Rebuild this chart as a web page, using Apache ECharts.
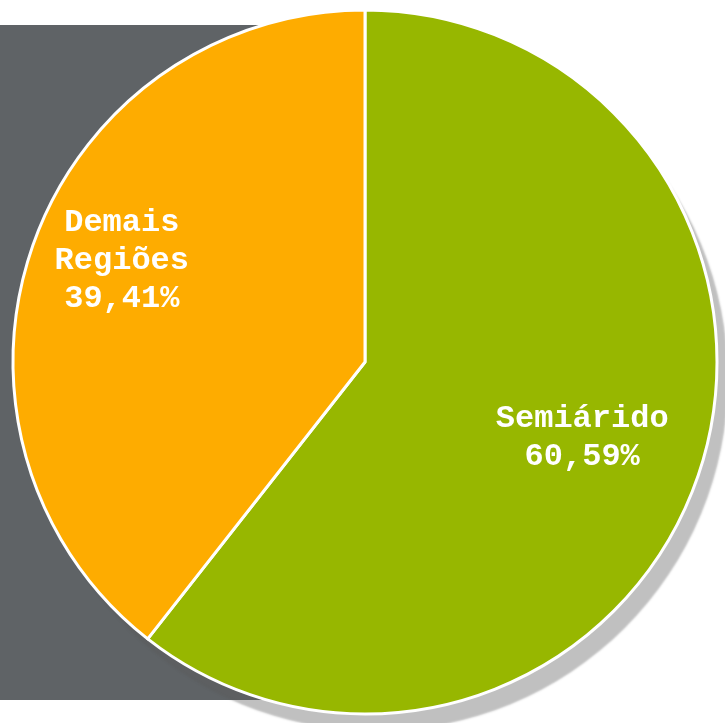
<!DOCTYPE html>
<html><head><meta charset="utf-8">
<script src="https://cdn.jsdelivr.net/npm/echarts@6/dist/echarts.min.js"></script>
<style>html,body{margin:0;padding:0;background:#fff}#c{width:725px;height:723px}</style>
</head><body><div id="c"></div>
<script>
const categories = ['Semiárido', 'Demais\nRegiões'];
const values = [60.59, 39.41];
const labels = ['Semiárido\n60,59%', 'Demais\nRegiões\n39,41%'];
const colors = ['#97b700', '#feac00'];
const labelOffsets = [[48, 17], [-74, -43]];

const chart = echarts.init(document.getElementById('c'), null, {renderer: 'canvas'});
chart.setOption({
  animation: false,
  graphic: [{
    type: 'rect', z: 0, silent: true,
    shape: {x: 0, y: 25, width: 365, height: 675},
    style: {fill: '#5f6366'}
  }],
  series: [
    {
      type: 'pie', z: 1, silent: true,
      center: [365, 362], radius: 352,
      label: {show: false}, labelLine: {show: false},
      itemStyle: {color: '#ffffff', shadowColor: 'rgba(90,90,90,0.38)', shadowBlur: 2, shadowOffsetX: 11, shadowOffsetY: 17},
      data: [{value: 1, name: 'bg'}]
    },
    {
      type: 'pie', z: 2,
      center: [365, 362], radius: 352,
      startAngle: 90, clockwise: true,
      itemStyle: {borderColor: '#ffffff', borderWidth: 3},
      label: {
        show: true, position: 'inside',
        fontFamily: 'Liberation Mono', fontWeight: 'bold', fontSize: 32, lineHeight: 38,
        color: '#ffffff', align: 'center'
      },
      labelLine: {show: false},
      data: categories.map((c, i) => ({
        name: c, value: values[i],
        itemStyle: {color: colors[i]},
        label: {formatter: labels[i], offset: labelOffsets[i]}
      }))
    }
  ]
});
</script></body></html>
